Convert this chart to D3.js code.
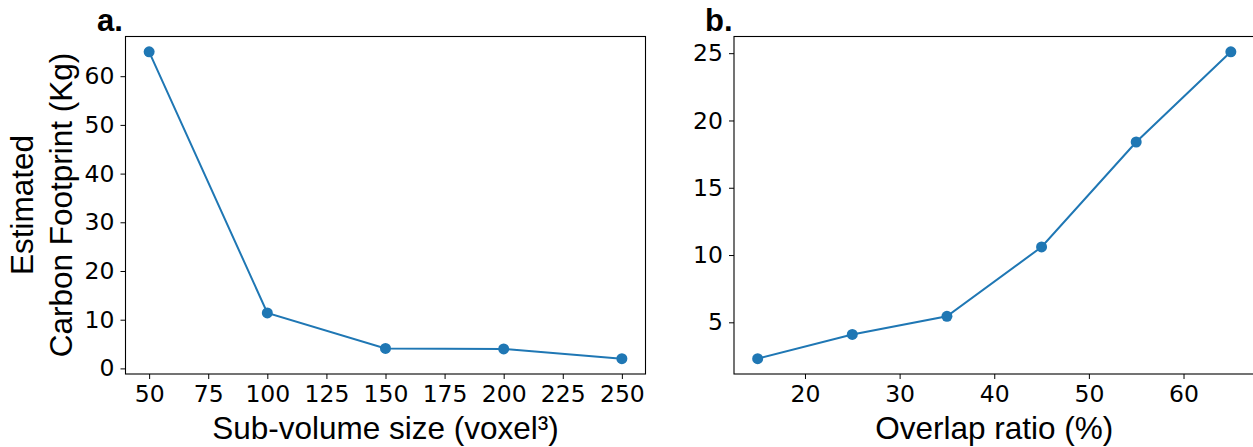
<!DOCTYPE html>
<html><head><meta charset="utf-8">
<script src="https://cdn.jsdelivr.net/npm/d3@7"></script>
<style>
html,body{margin:0;padding:0;background:#fff;overflow:hidden;}
.tick text{font-family:"DejaVu Sans",sans-serif;font-size:23.5px;fill:#000;}
.tick line{stroke:#000;}
.domain{display:none;}
</style></head>
<body><svg id="c" width="1253" height="447"></svg>
<script>
// Panel a data
const sizeA = [50, 100, 150, 200, 250];
const carbonA = [65.0, 11.4, 4.1, 4.0, 2.0];
const xTicksA = [50, 75, 100, 125, 150, 175, 200, 225, 250];
const yTicksA = [0, 10, 20, 30, 40, 50, 60];
// Panel b data
const overlapB = [15, 25, 35, 45, 55, 65];
const carbonB = [2.3, 4.1, 5.45, 10.6, 18.4, 25.1];
const xTicksB = [20, 30, 40, 50, 60];
const yTicksB = [5, 10, 15, 20, 25];

const color = "#1f77b4";
const svg = d3.select("#c");

function panel(opt) {
  const {left, right, top, bottom, xs, ys, xticks, yticks, xlabel, title, titleX} = opt;
  const xmin = d3.min(xs), xmax = d3.max(xs), ymin = d3.min(ys), ymax = d3.max(ys);
  const mx = (xmax - xmin) * 0.05, my = (ymax - ymin) * 0.05;
  const x = d3.scaleLinear().domain([xmin - mx, xmax + mx]).range([left, right]);
  const y = d3.scaleLinear().domain([ymin - my, ymax + my]).range([bottom, top]);
  const g = svg.append("g");
  g.append("g").attr("transform", `translate(0,${bottom})`)
    .call(d3.axisBottom(x).tickValues(xticks).tickSize(5).tickPadding(6).tickFormat(d3.format("d")));
  g.append("g").attr("transform", `translate(${left},0)`)
    .call(d3.axisLeft(y).tickValues(yticks).tickSize(5).tickPadding(6).tickFormat(d3.format("d")));
  g.append("rect").attr("x", left).attr("y", top).attr("width", right - left).attr("height", bottom - top)
    .attr("fill", "none").attr("stroke", "#000").attr("stroke-width", 1.1);
  const pts = xs.map((v, i) => [v, ys[i]]);
  g.append("path").datum(pts)
    .attr("d", d3.line().x(d => x(d[0])).y(d => y(d[1])))
    .attr("fill", "none").attr("stroke", color).attr("stroke-width", 2);
  g.selectAll("circle.pt").data(pts).enter().append("circle")
    .attr("cx", d => x(d[0])).attr("cy", d => y(d[1])).attr("r", 5.5).attr("fill", color);
  g.append("text").attr("x", (left + right) / 2).attr("y", 439).attr("text-anchor", "middle")
    .attr("font-family", "'Liberation Sans', Arial, sans-serif").attr("font-size", 31.5).text(xlabel);
  g.append("text").attr("x", titleX).attr("y", 31)
    .attr("font-family", "'Liberation Sans', Arial, sans-serif").attr("font-weight", "bold").attr("font-size", 31).text(title);
}

panel({left: 125.5, right: 645.5, top: 36.5, bottom: 374, xs: sizeA, ys: carbonA,
  xticks: xTicksA, yticks: yTicksA, xlabel: "Sub-volume size (voxel³)", title: "a.", titleX: 97});
panel({left: 734, right: 1254.5, top: 36.5, bottom: 374, xs: overlapB, ys: carbonB,
  xticks: xTicksB, yticks: yTicksB, xlabel: "Overlap ratio (%)", title: "b.", titleX: 705});

const yl = svg.append("text").attr("transform", "translate(0,205) rotate(-90)")
  .attr("text-anchor", "middle").attr("font-family", "'Liberation Sans', Arial, sans-serif").attr("font-size", 31.5);
yl.append("tspan").attr("x", 0).attr("y", 33).text("Estimated");
yl.append("tspan").attr("x", 0).attr("y", 72).text("Carbon Footprint (Kg)");
</script></body></html>
